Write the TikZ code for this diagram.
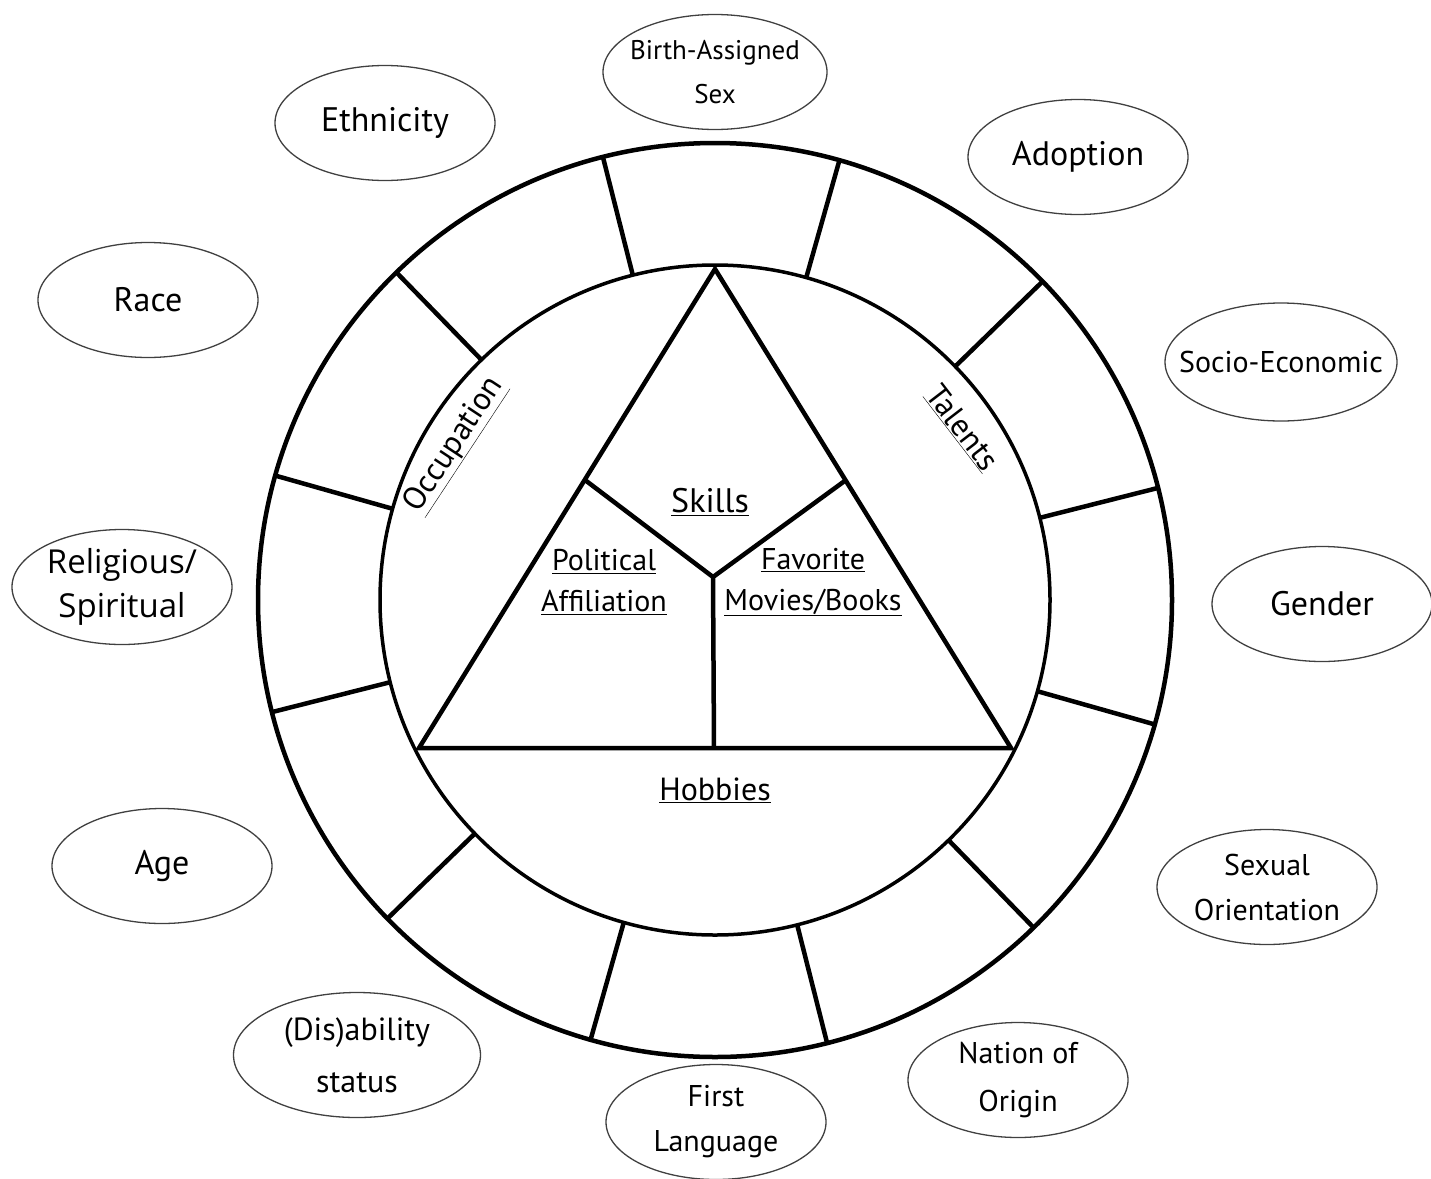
\documentclass[tikz,border=0pt]{standalone}
\usepackage{fontspec}
\setmainfont{PT Sans}
\newfontfamily\relfont{Open Sans}
\usetikzlibrary{shapes.geometric}

\begin{document}
\begin{tikzpicture}[x=1pt,y=-1pt]
\useasboundingbox (0,0) rectangle (1431,1178);

\def\rin{335}
\def\rout{457}
\tikzstyle{ring} = [line width=4.5pt, black];
\tikzstyle{oval} = [draw=black!75, line width=1.3pt, ellipse,
	minimum width=220pt, minimum height=115pt, inner xsep=-25pt, inner ysep=0pt,
	align=center, font=\fontsize{30}{45}\selectfont];
\tikzstyle{big} = [font=\fontsize{34}{44}\selectfont];
\tikzstyle{field} = [align=center, inner sep=0pt, font=\fontsize{30}{41}\selectfont];

% wheel
\begin{scope}[shift={(715,600)}]
\coordinate (c) at (0,0);
\draw[ring] (c) circle (\rout);
\draw[ring, line width=3.5pt] (c) circle (\rin);
\foreach \a in {0,...,11}
	\draw[ring] (15.8+30*\a:\rin) -- (15.8+30*\a:\rout);

% triangle
\coordinate (apex) at (0,-331);
\coordinate (bl) at (-296,148);
\coordinate (br) at (296,148);
\coordinate (mid) at (-2,-23);
\coordinate (ml) at (-130,-120);
\coordinate (mr) at (131,-120);
\coordinate (mb) at (-1,148);
\draw[ring] (apex) -- (bl) -- (br) -- cycle;
\draw[ring] (ml) -- (mid) -- (mr) (mid) -- (mb);
\end{scope}

\node[field, font=\fontsize{34}{41}\selectfont] (skills) at (710,502) {\underline{Skills}};
\node[field] (political) at (604,582) {\underline{Political}\\\underline{Affiliation}};
\node[field] (favorite) at (813,582) {\underline{Favorite}\\\underline{Movies/Books}};
\node[field, font=\fontsize{32}{41}\selectfont] (hobbies) at (715,790) {\underline{Hobbies}};
\node[field, rotate=56.6, font=\fontsize{32}{41}\selectfont] (occupation) at (455,445) {\underline{Occupation}};
\node[field, rotate=-52.4, font=\fontsize{32}{41}\selectfont] (talents) at (962,428) {\underline{Talents}};

% identities
\node[oval, minimum width=224pt, font=\fontsize{27}{44}\selectfont] (birth) at (715,72) {Birth-Assigned\\Sex};
\node[oval,big] (ethnicity) at (385,123) {Ethnicity};
\node[oval,big] (adoption) at (1078,157) {Adoption};
\node[oval,big] (race) at (148,300) {Race};
\node[oval, minimum width=232pt, minimum height=118pt] (socio) at (1281,362) {Socio-Economic};
\node[oval, font={\relfont\fontsize{33}{44}\selectfont}] (religion) at (122,587) {Religious/\\Spiritual};
\node[oval,big] (gender) at (1322,604) {Gender};
\node[oval,big] (age) at (162,866) {Age};
\node[oval] (sexual) at (1267,887) {Sexual\\Orientation};
\node[oval, minimum width=247pt, minimum height=125pt, font=\fontsize{32}{52}\selectfont] (disability) at (357,1055) {(Dis)ability\\status};
\node[oval, font=\fontsize{30}{48}\selectfont] (nation) at (1018,1080) {Nation of\\Origin};
\node[oval] (language) at (716,1122) {First\\Language};

\end{tikzpicture}
\end{document}
